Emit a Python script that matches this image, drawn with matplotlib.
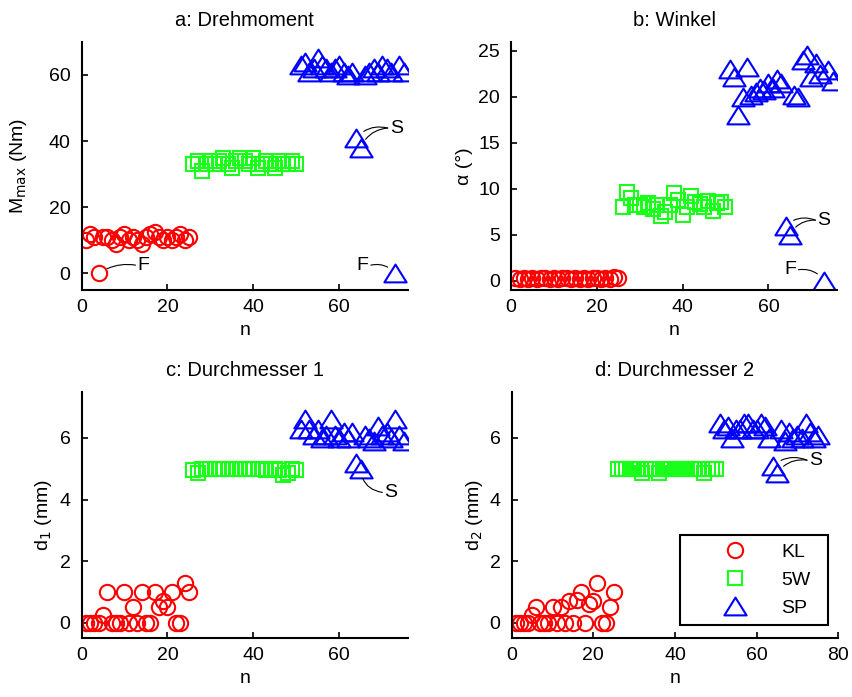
import numpy as np
import matplotlib
matplotlib.use('Agg')
import matplotlib.pyplot as plt
from matplotlib.path import Path
from matplotlib.text import OffsetFrom

plt.rcParams['font.family'] = ['Liberation Sans', 'DejaVu Sans']
plt.rcParams['font.size'] = 14

# sample index per group
n_kl = np.arange(1, 26)
n_5w = np.arange(26, 51)
n_sp = np.arange(51, 76)

# a: Drehmoment M_max (Nm)
m_kl = [10, 12, 11, 0, 11, 11, 10, 9, 11, 12, 10, 11, 10, 9, 11, 12, 12.5, 11, 10, 11, 10, 11, 12, 10, 11]
m_5w = [33, 34, 31, 33, 34, 33, 34, 35, 33, 32, 34, 35, 34, 33, 35, 32, 33, 34, 33, 32, 34, 33, 33, 34, 33]
m_sp = [63, 64, 61, 62, 65, 63, 62, 61, 62, 63, 61, 60, 61, 41, 38, 60, 61, 62, 61, 63, 62, 61, 0, 63, 61]

# b: Winkel alpha (deg)
w_kl = [0.3, 0.2, 0.3, 0.2, 0.3, 0.2, 0.3, 0.3, 0.2, 0.3, 0.2, 0.3, 0.3, 0.2, 0.3, 0.2, 0.3, 0.2, 0.3, 0.3, 0.2, 0.3, 0.2, 0.4, 0.3]
w_5w = [8.0, 9.7, 9.0, 8.2, 8.3, 8.0, 8.5, 7.8, 8.2, 7.0, 7.5, 8.3, 9.5, 8.8, 7.2, 8.0, 9.2, 8.6, 8.4, 8.0, 8.7, 7.6, 8.5, 8.6, 8.0]
w_sp = [23.0, 22.2, 18.0, 20.0, 23.3, 20.2, 20.5, 21.0, 20.8, 21.5, 21.0, 21.9, 21.5, 6.0, 5.0,
        20.2, 20.0, 24.0, 24.6, 22.2, 23.7, 22.5, 0, 22.9, 21.7]

# c: Durchmesser 1 d_1 (mm)
d1_kl = [0, 0, 0, 0, 0.25, 1.0, 0, 0, 0, 1.0, 0, 0.5, 0, 1.0, 0, 0, 1.0, 0.5, 0.7, 0.5, 1.0, 0, 0, 1.3, 1.0]
d1_5w = [4.95, 4.85, 5.0, 5.0, 5.0, 5.0, 5.0, 5.0, 5.0, 5.0, 5.0, 5.0, 5.0, 5.0, 5.0, 5.0, 5.0, 4.95, 5.0, 5.0, 4.95, 4.8, 4.85, 5.0, 4.95]
d1_sp = [6.3, 6.6, 6.3, 6.1, 6.3, 6.0, 6.1, 6.6, 6.1, 6.0, 6.2, 6.0, 6.2, 5.2, 5.0,
         6.1, 6.0, 5.9, 6.4, 6.1, 6.2, 6.0, 6.6, 6.1, 5.9]

# d: Durchmesser 2 d_2 (mm)
d2_kl = [0, 0, 0, 0, 0.25, 0.5, 0, 0, 0, 0.5, 0, 0.5, 0, 0.7, 0, 0.75, 1.0, 0, 0.6, 0.7, 1.3, 0, 0, 0.5, 1.0]
d2_5w = [5.0, 5.0, 5.0, 5.0, 5.0, 5.0, 4.85, 5.0, 5.0, 5.0, 4.85, 5.0, 5.0, 5.0, 5.0, 5.0, 5.0, 5.0, 5.0, 5.0, 5.0, 4.85, 5.0, 5.0, 5.0]
d2_sp = [6.5, 6.3, 6.4, 6.0, 6.3, 6.3, 6.5, 6.5, 6.3, 6.3, 6.5, 6.4, 6.0, 5.1, 4.85,
         6.3, 5.9, 6.2, 6.0, 6.1, 6.0, 6.5, 6.2, 6.0, 6.1]

labels = ['KL', '5W', 'SP']
i_s1, i_s2, i_f = 13, 14, 22      # S and F samples within SP
i_fkl = 3                          # F sample within KL

tri = Path([(0, 0.8), (-1, -0.8), (1, -0.8), (0, 0.8)], closed=True)
styles = [dict(marker='o', color=(1, 0, 0), ms=11),
          dict(marker='s', color=(0.1, 1, 0.1), ms=10),
          dict(marker=tri, color=(0, 0, 1), ms=16)]

fig = plt.figure(figsize=(8.52, 6.97), dpi=100)
pos = [[0.0957, 0.5839, 0.3832, 0.3562],
       [0.5998, 0.5839, 0.3826, 0.3562],
       [0.0957, 0.0842, 0.3832, 0.3538],
       [0.6006, 0.0842, 0.3833, 0.3538]]
titles = ['a: Drehmoment', 'b: Winkel', 'c: Durchmesser 1', 'd: Durchmesser 2']
ylabels = [r'M$_{\rm max}$ (Nm)', 'α (°)', r'd$_1$ (mm)', r'd$_2$ (mm)']
ylabelpads = [14, 4, 4, 3]
data = [(m_kl, m_5w, m_sp), (w_kl, w_5w, w_sp), (d1_kl, d1_5w, d1_sp), (d2_kl, d2_5w, d2_sp)]
ylims = [(-5, 70), (-1, 26), (-0.5, 7.5), (-0.5, 7.5)]
yticks = [[0, 20, 40, 60], [0, 5, 10, 15, 20, 25], [0, 2, 4, 6], [0, 2, 4, 6]]
xlims = [(0, 76), (0, 76), (0, 76), (0, 80)]

axes = []
for k in range(4):
    ax = fig.add_axes(pos[k])
    for ns, vals, st, lab in zip((n_kl, n_5w, n_sp), data[k], styles, labels):
        ax.plot(ns, vals, linestyle='none', marker=st['marker'], ms=st['ms'],
                mfc='none', mec=st['color'], mew=1.5, label=lab)
    ax.set_xlim(*xlims[k])
    ax.set_ylim(*ylims[k])
    ax.set_yticks(yticks[k])
    ax.set_xticks(np.arange(0, xlims[k][1] + 1, 20))
    ax.set_title(titles[k], fontsize=14.5, pad=11.5)
    ax.set_xlabel('n', labelpad=4)
    ax.set_ylabel(ylabels[k], labelpad=ylabelpads[k])
    for s in ('top', 'right'):
        ax.spines[s].set_visible(False)
    for s in ('left', 'bottom'):
        ax.spines[s].set_linewidth(1.5)
    ax.tick_params(direction='in', length=4, width=1.2, labelsize=14)
    ax.tick_params(axis='x', pad=6.5)
    ax.tick_params(axis='y', pad=8)
    axes.append(ax)


def callout(ax, label, anchor, off, targets, rad, side='left'):
    ha = 'left' if side == 'left' else 'right'
    t = ax.annotate(label, xy=anchor, xytext=off, textcoords='offset points',
                    ha=ha, va='center', fontsize=14)
    ref = (0, 0.5) if side == 'left' else (1, 0.5)
    dx = -1.5 if side == 'left' else 1.5
    for tg in targets:
        ax.annotate('', xy=tg, xytext=(dx, 0), textcoords=OffsetFrom(t, ref),
                    arrowprops=dict(arrowstyle='-', color='k', lw=0.8, shrinkA=0, shrinkB=7,
                                    connectionstyle=f'arc3,rad={rad}'))


ax = axes[0]
callout(ax, 'F', (n_kl[i_fkl], m_kl[i_fkl]), (28, 6), [(n_kl[i_fkl], m_kl[i_fkl])], 0.2)
callout(ax, 'F', (n_sp[i_f], m_sp[i_f]), (-19, 6), [(n_sp[i_f], m_sp[i_f])], -0.3, side='right')
callout(ax, 'S', (n_sp[i_s1], m_sp[i_s1]), (24, 7),
        [(n_sp[i_s1], m_sp[i_s1]), (n_sp[i_s2], m_sp[i_s2])], 0.3)

ax = axes[1]
callout(ax, 'S', (n_sp[i_s1], w_sp[i_s1]), (23, 4),
        [(n_sp[i_s1], w_sp[i_s1]), (n_sp[i_s2], w_sp[i_s2])], 0.3)
callout(ax, 'F', (n_sp[i_f], w_sp[i_f]), (-20, 8), [(n_sp[i_f], w_sp[i_f])], -0.3, side='right')

ax = axes[2]
callout(ax, 'S', (n_sp[i_s2], d1_sp[i_s2]), (17, -17), [(n_sp[i_s2], d1_sp[i_s2])], -0.4)

ax = axes[3]
callout(ax, 'S', (n_sp[i_s1], d2_sp[i_s1]), (26, 4),
        [(n_sp[i_s1], d2_sp[i_s1]), (n_sp[i_s2], d2_sp[i_s2])], 0.3)

leg = axes[3].legend(loc='lower left', bbox_to_anchor=(0.515, 0.054, 0.454, 0.36), mode='expand',
                     frameon=True, fancybox=False, edgecolor='k', framealpha=1,
                     borderpad=0.42, labelspacing=0.53, handlelength=4.8, handletextpad=0.0,
                     borderaxespad=0, fontsize=14)
leg.get_frame().set_linewidth(1.5)

fig.savefig('out.png', dpi=100)
